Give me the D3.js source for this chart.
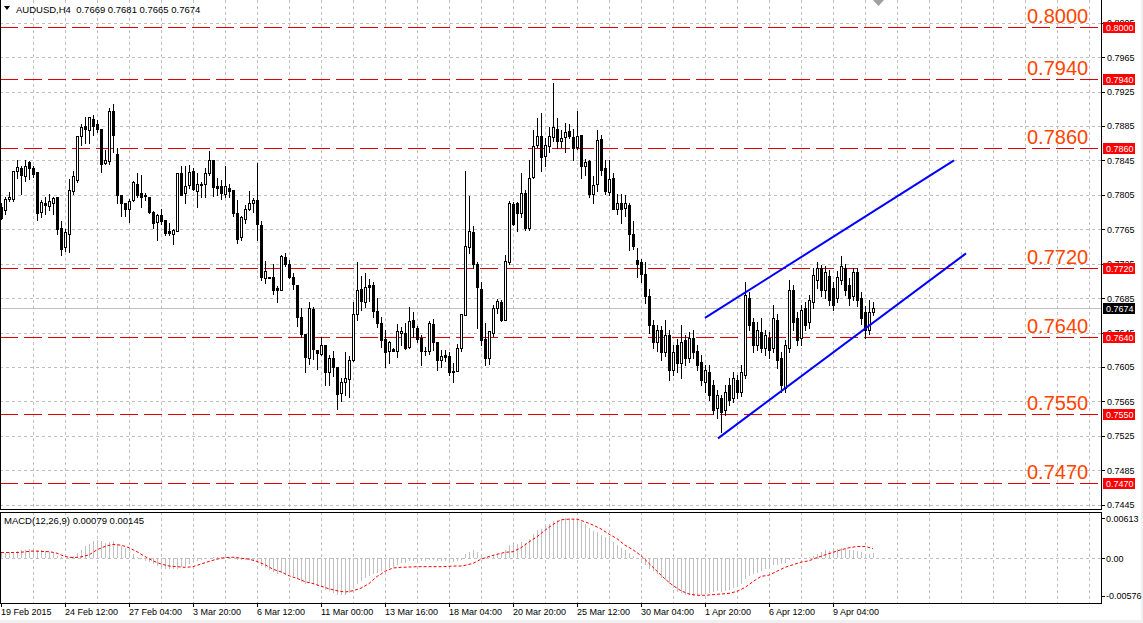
<!DOCTYPE html>
<html><head><meta charset="utf-8">
<script src="https://cdn.jsdelivr.net/npm/d3@7"></script>
<style>
html,body{margin:0;padding:0;background:#fff;}
svg{display:block;}
text{font-family:"Liberation Sans",Arial,sans-serif;}
</style></head><body>
<svg id="c" width="1143" height="623"></svg>
<script>
const open=[.7791,.7787,.7800,.7800,.7833,.7836,.7827,.7843,.7836,.7831,
.7785,.7796,.7792,.7795,.7802,.7766,.7744,.7759,.7809,.7822,
.7873,.7885,.7880,.7893,.7887,.7882,.7842,.7844,.7902,.7852,
.7805,.7795,.7788,.7799,.7818,.7807,.7805,.7803,.7785,.7773,
.7782,.7776,.7763,.7759,.7763,.7830,.7807,.7816,.7833,.7809,
.7818,.7818,.7830,.7845,.7815,.7815,.7806,.7813,.7811,.7784,
.7756,.7777,.7789,.7796,.7799,.7770,.7708,.7709,.7709,.7697,
.7695,.7733,.7725,.7710,.7700,.7663,.7643,.7616,.7672,.7625,
.7620,.7631,.7599,.7616,.7605,.7575,.7588,.7591,.7613,.7667,
.7696,.7681,.7700,.7700,.7670,.7656,.7637,.7623,.7626,.7623,
.7645,.7645,.7628,.7660,.7650,.7639,.7624,.7624,.7655,.7634,
.7613,.7619,.7618,.7599,.7600,.7627,.7665,.7744,.7762,.7725,
.7696,.7638,.7616,.7645,.7674,.7680,.7660,.7727,.7794,.7795,
.7784,.7807,.7767,.7826,.7863,.7873,.7850,.7862,.7872,.7882,
.7868,.7872,.7879,.7872,.7861,.7875,.7838,.7844,.7806,.7818,
.7870,.7836,.7808,.7824,.7789,.7795,.7790,.7793,.7760,.7729,
.7727,.7713,.7687,.7654,.7634,.7648,.7622,.7642,.7601,.7630,
.7610,.7636,.7615,.7639,.7624,.7611,.7588,.7599,.7584,.7557,
.7569,.7555,.7584,.7569,.7590,.7576,.7596,.7685,.7657,.7631,
.7646,.7627,.7639,.7627,.7660,.7615,.7581,.7627,.7694,.7662,
.7639,.7673,.7657,.7680,.7706,.7720,.7694,.7711,.7697,.7685,
.7706,.7720,.7700,.7687,.7715,.7685,.7669,.7648,.7669];
const high=[.7795,.7802,.7808,.7833,.7845,.7839,.7845,.7844,.7839,.7831,
.7799,.7803,.7806,.7802,.7802,.7775,.7765,.7823,.7833,.7873,
.7887,.7896,.7896,.7898,.7892,.7882,.7857,.7906,.7911,.7859,
.7805,.7795,.7800,.7821,.7830,.7828,.7807,.7803,.7786,.7783,
.7789,.7776,.7772,.7765,.7830,.7838,.7838,.7840,.7836,.7830,
.7820,.7836,.7856,.7845,.7824,.7822,.7838,.7818,.7811,.7799,
.7780,.7793,.7809,.7801,.7842,.7775,.7728,.7710,.7725,.7699,
.7735,.7737,.7729,.7714,.7700,.7673,.7643,.7680,.7675,.7625,
.7640,.7631,.7619,.7623,.7605,.7592,.7622,.7618,.7681,.7727,
.7711,.7714,.7707,.7704,.7685,.7663,.7648,.7635,.7627,.7655,
.7652,.7656,.7675,.7669,.7653,.7642,.7628,.7658,.7661,.7634,
.7625,.7625,.7622,.7610,.7632,.7667,.7833,.7804,.7769,.7727,
.7704,.7656,.7647,.7677,.7684,.7683,.7735,.7798,.7797,.7797,
.7830,.7811,.7845,.7880,.7894,.7900,.7871,.7884,.7935,.7894,
.7880,.7888,.7887,.7882,.7902,.7875,.7847,.7845,.7827,.7880,
.7875,.7845,.7845,.7830,.7806,.7806,.7805,.7795,.7775,.7743,
.7731,.7727,.7696,.7660,.7654,.7653,.7660,.7648,.7630,.7638,
.7654,.7642,.7646,.7648,.7630,.7619,.7607,.7607,.7590,.7578,
.7572,.7584,.7592,.7599,.7596,.7607,.7704,.7692,.7662,.7657,
.7662,.7648,.7646,.7677,.7666,.7622,.7636,.7706,.7700,.7669,
.7677,.7680,.7689,.7720,.7727,.7723,.7722,.7718,.7704,.7716,
.7734,.7725,.7708,.7720,.7720,.7692,.7676,.7683,.7681];
const low=[.7777,.7783,.7798,.7798,.7825,.7806,.7821,.7823,.7826,.7776,
.7779,.7783,.7787,.7783,.7759,.7735,.7740,.7739,.7806,.7820,
.7863,.7865,.7865,.7875,.7878,.7832,.7841,.7841,.7855,.7796,
.7781,.7781,.7773,.7798,.7802,.7791,.7799,.7784,.7766,.7752,
.7771,.7758,.7758,.7748,.7763,.7805,.7795,.7813,.7811,.7791,
.7803,.7803,.7828,.7804,.7805,.7800,.7803,.7802,.7780,.7749,
.7752,.7772,.7787,.7785,.7753,.7706,.7702,.7708,.7690,.7680,
.7695,.7722,.7708,.7696,.7653,.7640,.7599,.7609,.7614,.7603,
.7619,.7584,.7584,.7594,.7556,.7566,.7572,.7570,.7612,.7660,
.7671,.7675,.7682,.7663,.7652,.7628,.7605,.7610,.7623,.7617,
.7631,.7626,.7627,.7640,.7634,.7607,.7619,.7620,.7625,.7601,
.7605,.7612,.7596,.7587,.7600,.7624,.7665,.7737,.7720,.7650,
.7631,.7607,.7609,.7641,.7668,.7659,.7660,.7725,.7770,.7763,
.7779,.7764,.7764,.7825,.7861,.7833,.7838,.7855,.7867,.7859,
.7861,.7855,.7871,.7845,.7858,.7824,.7828,.7803,.7796,.7809,
.7828,.7806,.7805,.7788,.7783,.7772,.7781,.7741,.7742,.7710,
.7704,.7679,.7645,.7627,.7624,.7613,.7618,.7590,.7596,.7599,
.7592,.7607,.7611,.7615,.7601,.7584,.7576,.7567,.7550,.7546,
.7529,.7549,.7561,.7564,.7569,.7571,.7592,.7648,.7622,.7625,
.7622,.7619,.7615,.7622,.7604,.7576,.7576,.7622,.7648,.7631,
.7631,.7648,.7650,.7674,.7697,.7687,.7685,.7677,.7671,.7680,
.7701,.7689,.7677,.7683,.7676,.7655,.7639,.7643,.7665];
const close=[.7778,.7800,.7802,.7833,.7837,.7828,.7838,.7836,.7829,.7784,
.7797,.7793,.7798,.7801,.7765,.7742,.7762,.7811,.7827,.7873,
.7884,.7881,.7895,.7885,.7882,.7841,.7845,.7902,.7875,.7805,
.7796,.7788,.7798,.7820,.7805,.7803,.7804,.7785,.7772,.7782,
.7775,.7761,.7761,.7764,.7830,.7805,.7815,.7831,.7812,.7818,
.7816,.7830,.7845,.7814,.7813,.7807,.7815,.7810,.7784,.7754,
.7779,.7788,.7795,.7799,.7771,.7709,.7717,.7708,.7695,.7695,
.7734,.7725,.7710,.7701,.7663,.7643,.7617,.7673,.7626,.7621,
.7631,.7599,.7615,.7605,.7574,.7588,.7592,.7613,.7667,.7695,
.7682,.7698,.7698,.7670,.7656,.7636,.7622,.7634,.7624,.7647,
.7647,.7627,.7659,.7651,.7638,.7623,.7624,.7656,.7634,.7613,
.7618,.7617,.7599,.7600,.7627,.7666,.7746,.7763,.7725,.7698,
.7636,.7615,.7647,.7674,.7682,.7660,.7728,.7795,.7771,.7784,
.7807,.7767,.7825,.7862,.7873,.7849,.7863,.7873,.7884,.7867,
.7871,.7878,.7873,.7860,.7873,.7839,.7843,.7806,.7817,.7869,
.7834,.7809,.7823,.7788,.7795,.7789,.7795,.7760,.7746,.7725,
.7713,.7687,.7654,.7634,.7648,.7622,.7642,.7601,.7622,.7610,
.7634,.7615,.7639,.7622,.7607,.7590,.7602,.7572,.7555,.7572,
.7553,.7576,.7567,.7592,.7576,.7599,.7689,.7654,.7631,.7648,
.7627,.7642,.7625,.7662,.7613,.7584,.7631,.7694,.7657,.7636,
.7671,.7654,.7683,.7712,.7720,.7694,.7715,.7683,.7677,.7709,
.7722,.7694,.7685,.7715,.7683,.7662,.7648,.7669,.7674];
const macdMain=[.0009,.0008,.0009,.0010,.0011,.0012,.0013,.0014,.0015,.0013,
.0012,.0011,.0010,.0008,.0004,.0002,.0001,.0002,.0004,.0008,
.0012,.0018,.0022,.0026,.0028,.0026,.0024,.0025,.0027,.0022,
.0018,.0015,.0010,.0006,.0002,-.0001,-.0004,-.0006,-.0009,-.0012,
-.0014,-.0016,-.0017,-.0017,-.0016,-.0013,-.0012,-.0009,-.0008,-.0005,
-.0003,-.0001,.0001,.0002,.0002,.0002,.0003,.0002,.0001,-.0003,
-.0003,-.0003,-.0002,-.0002,-.0005,-.0012,-.0015,-.0018,-.0021,-.0024,
-.0023,-.0024,-.0026,-.0028,-.0032,-.0036,-.0040,-.0038,-.0040,-.0043,
-.0045,-.0049,-.0051,-.0053,-.0056,-.0057,-.0056,-.0054,-.0048,-.0040,
-.0035,-.0030,-.0027,-.0024,-.0022,-.0020,-.0018,-.0015,-.0013,-.0010,
-.0008,-.0007,-.0005,-.0004,-.0004,-.0005,-.0005,-.0003,-.0003,-.0004,
-.0004,-.0004,-.0005,-.0006,-.0005,-.0002,.0006,.0010,.0012,.0010,
.0005,.0002,.0003,.0005,.0007,.0006,.0012,.0020,.0022,.0022,
.0025,.0024,.0030,.0037,.0043,.0045,.0048,.0052,.0057,.0058,
.0059,.0061,.0061,.0060,.0059,.0055,.0052,.0046,.0042,.0040,
.0036,.0032,.0030,.0025,.0020,.0016,.0012,.0008,.0004,.0000,
-.0004,-.0010,-.0016,-.0020,-.0025,-.0030,-.0034,-.0040,-.0046,-.0052,
-.0054,-.0056,-.0057,-.0058,-.0057,-.0056,-.0055,-.0054,-.0052,-.0051,
-.0052,-.0051,-.0049,-.0046,-.0042,-.0040,-.0032,-.0028,-.0025,-.0022,
-.0020,-.0017,-.0014,-.0011,-.0010,-.0009,-.0008,-.0002,-.0001,.0000,
.0001,.0000,.0002,.0003,.0007,.0010,.0012,.0011,.0013,.0014,
.0015,.0014,.0013,.0012,.0011,.0010,.0006,.0006,.0008];
const macdSignal=[.00087,.00087,.00087,.00087,.00087,.00092,.00098,.00104,.00110,.00108,
.00104,.00102,.00100,.00090,.00077,.00050,.00026,.00016,.00010,.00014,
.00020,.00035,.00050,.00090,.00130,.00155,.00180,.00198,.00210,.00207,
.00200,.00182,.00160,.00130,.00100,.00063,.00026,-.00008,-.00040,-.00065,
-.00090,-.00105,-.00120,-.00126,-.00130,-.00136,-.00140,-.00136,-.00130,-.00110,
-.00090,-.00070,-.00050,-.00032,-.00015,-.00002,.00010,.00013,.00015,.00008,
.00000,-.00008,-.00015,-.00032,-.00050,-.00075,-.00100,-.00135,-.00170,-.00190,
-.00210,-.00240,-.00270,-.00290,-.00310,-.00335,-.00360,-.00375,-.00390,-.00410,
-.00430,-.00450,-.00470,-.00485,-.00500,-.00510,-.00520,-.00510,-.00500,-.00480,
-.00460,-.00425,-.00390,-.00335,-.00280,-.00245,-.00200,-.00175,-.00150,-.00145,
-.00140,-.00138,-.00135,-.00133,-.00130,-.00130,-.00130,-.00130,-.00130,-.00130,
-.00130,-.00128,-.00125,-.00122,-.00120,-.00120,-.00110,-.00095,-.00080,-.00048,
-.00015,.00005,.00026,.00043,.00060,.00075,.00090,.00095,.00100,.00130,
.00160,.00205,.00250,.00290,.00330,.00380,.00430,.00475,.00520,.00555,
.00590,.00595,.00600,.00600,.00600,.00580,.00560,.00535,.00510,.00480,
.00450,.00410,.00370,.00335,.00300,.00250,.00200,.00165,.00130,.00085,
.00040,-.00020,-.00080,-.00140,-.00200,-.00260,-.00320,-.00370,-.00420,-.00460,
-.00500,-.00525,-.00550,-.00560,-.00570,-.00570,-.00570,-.00565,-.00560,-.00555,
-.00550,-.00545,-.00540,-.00525,-.00510,-.00480,-.00450,-.00405,-.00360,-.00320,
-.00280,-.00270,-.00260,-.00230,-.00200,-.00170,-.00140,-.00120,-.00100,-.00080,
-.00060,-.00050,-.00040,-.00015,.00010,.00030,.00050,.00070,.00090,.00110,
.00130,.00145,.00160,.00170,.00180,.00180,.00180,.00165,.00145];
const timeLabels=["19 Feb 2015","24 Feb 12:00","27 Feb 04:00","3 Mar 20:00","6 Mar 12:00","11 Mar 00:00","13 Mar 16:00","18 Mar 04:00","20 Mar 20:00","25 Mar 12:00","30 Mar 04:00","1 Apr 20:00","6 Apr 12:00","9 Apr 04:00"];
const priceTicks=[0.8005,0.7965,0.7925,0.7885,0.7845,0.7805,0.7765,0.7725,0.7685,0.7645,0.7605,0.7565,0.7525,0.7485,0.7445];
const levels=[0.8000,0.7940,0.7860,0.7720,0.7640,0.7550,0.7470];
const lastPrice=0.7674;
const macdTicks=[0.00613,0,-0.00576];
const macdTickLabels=["0.00613","0.00","-0.00576"];
const channelUpper=[[176,0.7662],[238.25,0.7845]];
const channelLower=[[179.25,0.7522],[241.25,0.7737]];
const header="AUDUSD,H4  0.7669 0.7681 0.7665 0.7674";
const macdHeader="MACD(12,26,9) 0.00079 0.00145";

const svg=d3.select("#c");
const W=1143,H=623;
const plotR=1101, pTop=0, pBot=509, mTop=512, mBot=603;
const x=d3.scaleLinear().domain([0,275]).range([1,1101]);
const y=d3.scaleLinear().domain([0.7445,0.8005]).range([504.7,22.7]);
const ym=d3.scaleLinear().domain([-0.00576,0.00613]).range([595.7,518.3]);
const px=v=>Math.round(v)+0.5;

svg.append("rect").attr("x",0).attr("y",0).attr("width",W).attr("height",H).attr("fill","#f0f0f0");
svg.append("rect").attr("x",0).attr("y",0).attr("width",1141).attr("height",620).attr("fill","#fff");

const grid=svg.append("g").attr("stroke","#c0c0c0").attr("stroke-dasharray","3,3").attr("shape-rendering","crispEdges");
const vg=d3.range(8,276,8).filter(i=>x(i)<plotR-2);
vg.forEach(i=>{
  grid.append("line").attr("x1",px(x(i))).attr("x2",px(x(i))).attr("y1",pTop).attr("y2",pBot);
  grid.append("line").attr("x1",px(x(i))).attr("x2",px(x(i))).attr("y1",mTop).attr("y2",mBot);
});
priceTicks.forEach(p=>{
  grid.append("line").attr("x1",0).attr("x2",plotR).attr("y1",px(y(p))).attr("y2",px(y(p)));
});
grid.append("line").attr("x1",0).attr("x2",plotR).attr("y1",px(ym(0))).attr("y2",px(ym(0)));

const lv=svg.append("g");
levels.forEach(p=>{
  lv.append("line").attr("x1",0).attr("x2",plotR).attr("y1",px(y(p))).attr("y2",px(y(p)))
    .attr("stroke","#e00000").attr("stroke-dasharray","18,6").attr("shape-rendering","crispEdges");
  lv.append("text").attr("x",1027).attr("y",Math.round(y(p))-4).attr("fill","#ff4500")
    .attr("font-size","20px").text(p.toFixed(4));
});
svg.append("line").attr("x1",0).attr("x2",plotR).attr("y1",px(y(lastPrice))).attr("y2",px(y(lastPrice)))
  .attr("stroke","#c0c0c0").attr("shape-rendering","crispEdges");

const idx=d3.range(open.length);
const cg=svg.append("g").attr("shape-rendering","crispEdges");
cg.selectAll("line.w").data(idx).join("line").attr("class","w")
  .attr("x1",i=>Math.round(x(i))+0.5).attr("x2",i=>Math.round(x(i))+0.5)
  .attr("y1",i=>Math.round(y(high[i]))).attr("y2",i=>Math.round(y(low[i]))+1)
  .attr("stroke","#000");
idx.forEach(i=>{
  const cx=Math.round(x(i));
  const t=Math.round(y(Math.max(open[i],close[i]))), b=Math.round(y(Math.min(open[i],close[i])));
  const bull=close[i]>=open[i];
  if(b-t<1){
    cg.append("line").attr("x1",cx-1).attr("x2",cx+2).attr("y1",t+0.5).attr("y2",t+0.5).attr("stroke","#000");
  } else {
    cg.append("rect").attr("x",cx-0.5).attr("y",t+0.5).attr("width",2).attr("height",b-t)
      .attr("fill",bull?"#fff":"#000").attr("stroke","#000");
  }
});

const ln=d3.line().x(d=>x(d[0])).y(d=>y(d[1]));
[channelUpper,channelLower].forEach(c=>{
  svg.append("path").attr("d",ln(c)).attr("stroke","#0000ff").attr("stroke-width",2).attr("fill","none");
});

const mg=svg.append("g").attr("shape-rendering","crispEdges");
mg.selectAll("line").data(idx).join("line")
  .attr("x1",i=>Math.round(x(i))+0.5).attr("x2",i=>Math.round(x(i))+0.5)
  .attr("y1",Math.round(ym(0))).attr("y2",i=>Math.round(ym(macdMain[i])))
  .attr("stroke","#c0c0c0");
svg.append("path").attr("d",d3.line().x(i=>x(i)).y(i=>ym(macdSignal[i]))(idx))
  .attr("fill","none").attr("stroke","#ff0000").attr("stroke-dasharray","3,2");

const bg=svg.append("g").attr("stroke","#000").attr("fill","none").attr("shape-rendering","crispEdges");
bg.append("line").attr("x1",0.5).attr("x2",0.5).attr("y1",0).attr("y2",pBot);
bg.append("line").attr("x1",plotR+0.5).attr("x2",plotR+0.5).attr("y1",0).attr("y2",pBot);
bg.append("line").attr("x1",0).attr("x2",plotR+1).attr("y1",pBot+0.5).attr("y2",pBot+0.5);
bg.append("rect").attr("x",0.5).attr("y",mTop+0.5).attr("width",plotR).attr("height",mBot-mTop);

const ra=svg.append("g").attr("transform",`translate(${plotR+1},0)`);
ra.call(d3.axisRight(y).tickValues(priceTicks).tickSize(3).tickFormat(d3.format(".4f")));
ra.select(".domain").remove();
ra.selectAll("text").attr("font-size","9px").attr("font-family","Liberation Sans, Arial, sans-serif").attr("fill","#000").attr("x",5);
ra.selectAll("line").attr("stroke","#000").attr("shape-rendering","crispEdges");

levels.forEach(p=>{
  const yy=Math.round(y(p));
  svg.append("rect").attr("x",1103).attr("y",yy-5).attr("width",32).attr("height",11).attr("fill","#ff0000");
  svg.append("text").attr("x",1106).attr("y",yy+3.5).attr("fill","#fff").attr("font-size","9px").text(p.toFixed(4));
});
{
  const yy=Math.round(y(lastPrice));
  svg.append("rect").attr("x",1103).attr("y",yy-5).attr("width",32).attr("height",11).attr("fill","#000");
  svg.append("text").attr("x",1106).attr("y",yy+3.5).attr("fill","#fff").attr("font-size","9px").text(lastPrice.toFixed(4));
}

const ma=svg.append("g").attr("transform",`translate(${plotR+1},0)`);
ma.call(d3.axisRight(ym).tickValues(macdTicks).tickSize(3).tickFormat((d,i)=>macdTickLabels[i]));
ma.select(".domain").remove();
ma.selectAll("text").attr("font-size","9px").attr("font-family","Liberation Sans, Arial, sans-serif").attr("fill","#000").attr("x",4);
ma.selectAll("line").attr("stroke","#000").attr("shape-rendering","crispEdges");

const tIdx=timeLabels.map((t,k)=>k*16);
const ta=svg.append("g");
tIdx.forEach((i,k)=>{
  const xx=Math.round(x(i))+0.5;
  ta.append("line").attr("x1",xx).attr("x2",xx).attr("y1",mBot).attr("y2",mBot+4).attr("stroke","#000").attr("shape-rendering","crispEdges");
  ta.append("text").attr("x",xx-0.5).attr("y",615).attr("font-size","9px").attr("fill","#000").text(timeLabels[k]);
});

svg.append("path").attr("d","M4,6 L10,6 L7,10 Z").attr("fill","#000");
svg.append("text").attr("x",16).attr("y",13).attr("font-size","9.5px").attr("fill","#000").attr("xml:space","preserve").style("white-space","pre").text(header);
svg.append("text").attr("x",4).attr("y",524).attr("font-size","9.5px").attr("fill","#000").text(macdHeader);
svg.append("path").attr("d","M873,0 L884,0 L878.5,6 Z").attr("fill","#a0a0a0");
</script>
</body></html>
